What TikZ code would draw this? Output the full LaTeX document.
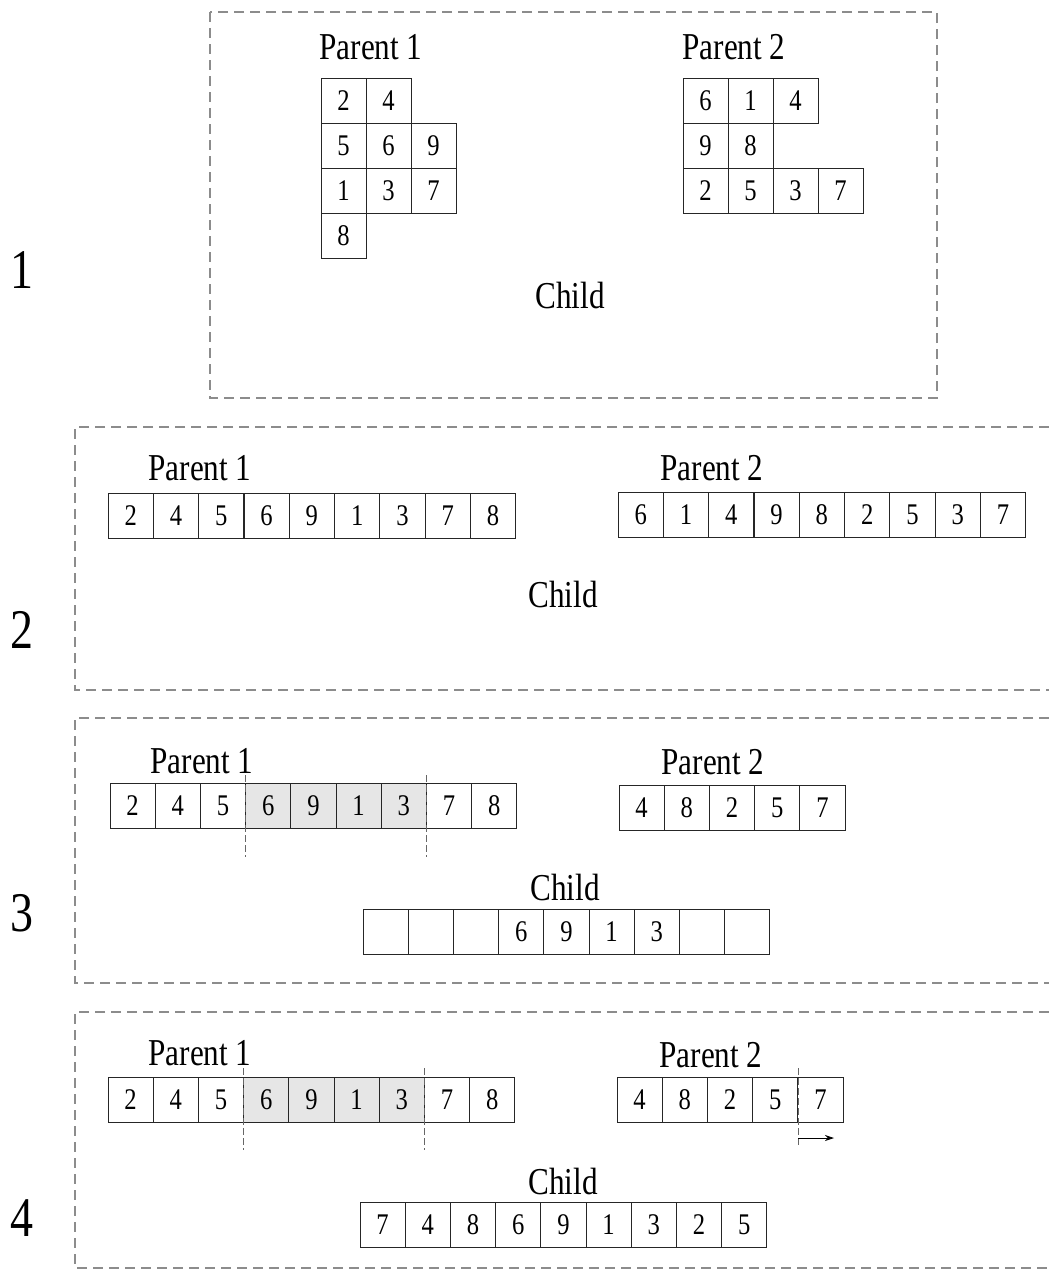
\documentclass[tikz,border=0pt]{standalone}
\usepackage{fontspec}
\setmainfont{Liberation Serif}[FakeStretch=0.82]
\usetikzlibrary{arrows.meta}
\definecolor{boxgray}{HTML}{8C8C8C}
\definecolor{shade}{HTML}{E6E6E6}
\tikzset{
  panelbox/.style={draw=boxgray, line width=2pt, dash pattern=on 10pt off 6pt},
  cell/.style={draw=black!85, line width=0.8pt, minimum width=45.2pt, minimum height=45pt, inner sep=0pt, font=\fontsize{30}{33}\selectfont},
  sqcell/.style={cell, minimum width=45pt},
  shcell/.style={cell, fill=shade, text=black},
  title/.style={font=\fontsize{38}{42}\selectfont, inner sep=0pt},
  plabel/.style={font=\fontsize{56}{60}\selectfont, inner sep=0pt},
  cutline/.style={draw=black!60, line width=0.6pt, dash pattern=on 7pt off 3pt},
  shiftarrow/.style={draw=black, line width=0.8pt, -{Stealth[length=9pt,width=6pt]}}
}
\begin{document}
\begin{tikzpicture}[x=1pt,y=-1pt]
\useasboundingbox (0,0) rectangle (1049,1277);
\fill[white] (0,0) rectangle (1049,1277);

% ---------- Panel 1 ----------
\draw[panelbox] (210,12) rectangle (937,398);
\node[plabel] (l1) at (22,270) {1};
\node[title] (t1a) at (371,47) {Parent 1};
\node[title] (t1b) at (734,47) {Parent 2};
\node[title] (t1c) at (570,295) {Child};
% parent 1 grid
\foreach \v/\c/\r [count=\i] in {2/0/0,4/1/0,5/0/1,6/1/1,9/2/1,1/0/2,3/1/2,7/2/2,8/0/3}
  \node[sqcell] (g1a\i) at ({321+45*\c+22.5},{78+45*\r+22.5}) {\v};
% parent 2 grid
\foreach \v/\c/\r [count=\i] in {6/0/0,1/1/0,4/2/0,9/0/1,8/1/1,2/0/2,5/1/2,3/2/2,7/3/2}
  \node[sqcell] (g1b\i) at ({683+45*\c+22.5},{78+45*\r+22.5}) {\v};

% ---------- Panel 2 ----------
\draw[panelbox] (1049,427) -- (75,427) -- (75,690) -- (1049,690);
\node[plabel] (l2) at (22,630) {2};
\node[title] (t2a) at (200,468) {Parent 1};
\node[title] (t2b) at (712,468) {Parent 2};
\node[title] (t2c) at (563,594) {Child};
\foreach \v [count=\i] in {2,4,5,6,9,1,3,7,8}
  \node[cell] (r2a\i) at ({108+45.3*\i-22.65},516) {\v};
\foreach \v [count=\i] in {6,1,4,9,8,2,5,3,7}
  \node[cell] (r2b\i) at ({618+45.3*\i-22.65},515) {\v};

% ---------- Panel 3 ----------
\draw[panelbox] (1049,718) -- (75,718) -- (75,983) -- (1049,983);
\node[plabel] (l3) at (22,913) {3};
\node[title] (t3a) at (202,761) {Parent 1};
\node[title] (t3b) at (713,762) {Parent 2};
\node[title] (t3c) at (565,887) {Child};
\foreach \v [count=\i] in {2,4,5}
  \node[cell] (r3a\i) at ({110+45.2*\i-22.6},806) {\v};
\foreach \v [count=\i from 4] in {6,9,1,3}
  \node[shcell] (r3a\i) at ({110+45.2*\i-22.6},806) {\v};
\foreach \v [count=\i from 8] in {7,8}
  \node[cell] (r3a\i) at ({110+45.2*\i-22.6},806) {\v};
\foreach \v [count=\i] in {4,8,2,5,7}
  \node[cell] (r3b\i) at ({619+45.2*\i-22.6},808) {\v};
\foreach \v [count=\i] in {{},{},{},6,9,1,3,{},{}}
  \node[cell] (r3c\i) at ({363+45.2*\i-22.6},932) {\v};
\coordinate (c3a1) at (245.6,775);
\coordinate (c3a2) at (245.6,857);
\coordinate (c3b1) at (426.4,775);
\coordinate (c3b2) at (426.4,857);
\draw[cutline] (c3a1) -- (c3a2);
\draw[cutline] (c3b1) -- (c3b2);

% ---------- Panel 4 ----------
\draw[panelbox] (1049,1012) -- (75,1012) -- (75,1268) -- (1049,1268);
\node[plabel] (l4) at (22,1218) {4};
\node[title] (t4a) at (200,1053) {Parent 1};
\node[title] (t4b) at (711,1055) {Parent 2};
\node[title] (t4c) at (563,1181) {Child};
\foreach \v [count=\i] in {2,4,5}
  \node[cell] (r4a\i) at ({108+45.2*\i-22.6},1100) {\v};
\foreach \v [count=\i from 4] in {6,9,1,3}
  \node[shcell] (r4a\i) at ({108+45.2*\i-22.6},1100) {\v};
\foreach \v [count=\i from 8] in {7,8}
  \node[cell] (r4a\i) at ({108+45.2*\i-22.6},1100) {\v};
\foreach \v [count=\i] in {4,8,2,5,7}
  \node[cell] (r4b\i) at ({617+45.2*\i-22.6},1100) {\v};
\foreach \v [count=\i] in {7,4,8,6,9,1,3,2,5}
  \node[cell] (r4c\i) at ({360+45.2*\i-22.6},1225) {\v};
\coordinate (c4a1) at (243.6,1068);
\coordinate (c4a2) at (243.6,1150);
\coordinate (c4b1) at (424.4,1068);
\coordinate (c4b2) at (424.4,1150);
\coordinate (c4c1) at (797.8,1068);
\coordinate (c4c2) at (797.8,1147);
\coordinate (a4s) at (797.8,1138);
\coordinate (a4e) at (834,1138);
\draw[cutline] (c4a1) -- (c4a2);
\draw[cutline] (c4b1) -- (c4b2);
\draw[cutline] (c4c1) -- (c4c2);
\draw[shiftarrow] (a4s) -- (a4e);
\end{tikzpicture}
\end{document}
